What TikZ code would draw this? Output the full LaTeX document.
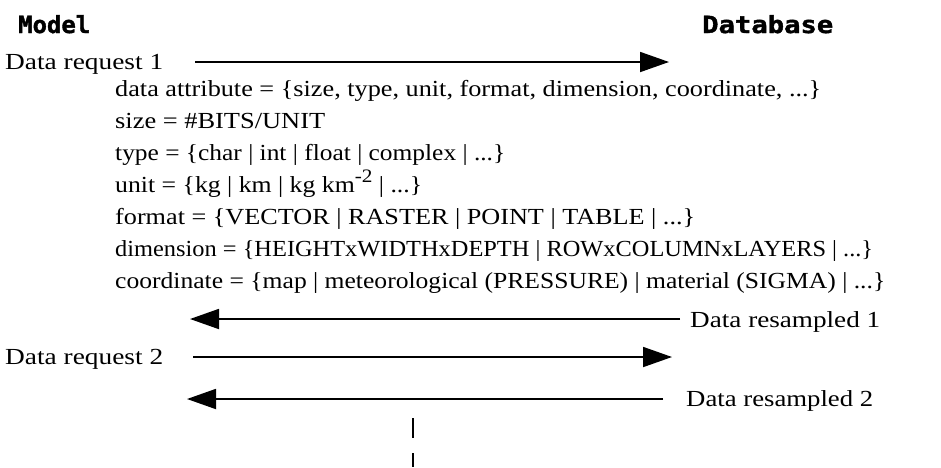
\documentclass[tikz,border=0pt]{standalone}
\usepackage{fontspec}
\usepackage{graphicx}
\setmainfont{Liberation Serif}
\newfontfamily\headfont[FakeBold=1.5]{DejaVu Sans Mono}
\usetikzlibrary{arrows.meta}
\newcommand\fitline[2]{\resizebox{#1}{\height}{#2}}
\newcommand\supr[1]{\raisebox{0.42em}{\fontsize{19}{19}\selectfont #1}}
\begin{document}
\begin{tikzpicture}[x=1pt,y=-1pt,
  txt/.style={anchor=base west,inner sep=0pt,font=\fontsize{23}{26}\selectfont},
  head/.style={anchor=base west,inner sep=0pt,font=\headfont\bfseries\fontsize{22}{24}\selectfont},
  msg/.style={line width=1.8pt,-{Triangle[length=29pt,width=20pt]}},
  dashseg/.style={line width=2pt}]
\useasboundingbox[fill=white] (0,0) rectangle (941,467);
\node[head] (model) at (18,33) {\resizebox{72pt}{18pt}{Model}};
\node[head] (db) at (702,33) {\resizebox{131pt}{18pt}{Database}};
\node[txt] (dr1) at (5,69) {\fitline{158pt}{Data request 1}};
\node[txt] (da) at (115,96) {\fitline{706pt}{data attribute = \{size, type, unit, format, dimension, coordinate, ...\}}};
\node[txt] (sz) at (115,128) {\fitline{210pt}{size = \#BITS/UNIT}};
\node[txt] (ty) at (115,160) {\fitline{390pt}{type = \{char | int | float | complex | ...\}}};
\node[txt] (un) at (115,192) {\fitline{307pt}{unit = \{kg | km | kg km\supr{-2} | ...\}}};
\node[txt] (fo) at (115,224) {\fitline{580pt}{format = \{VECTOR | RASTER | POINT | TABLE | ...\}}};
\node[txt] (di) at (115,256) {\fitline{758pt}{dimension = \{HEIGHTxWIDTHxDEPTH | ROWxCOLUMNxLAYERS | ...\}}};
\node[txt] (co) at (115,288) {\fitline{770pt}{coordinate = \{map | meteorological (PRESSURE) | material (SIGMA) | ...\}}};
\node[txt] (rs1) at (690,327) {\fitline{190pt}{Data resampled 1}};
\node[txt] (dr2) at (5,364) {\fitline{158pt}{Data request 2}};
\node[txt] (rs2) at (686,406) {\fitline{187pt}{Data resampled 2}};
\coordinate (a1s) at (195,62);
\coordinate (a1e) at (669,62);
\coordinate (a2s) at (680,319);
\coordinate (a2e) at (190,319);
\coordinate (a3s) at (193,357);
\coordinate (a3e) at (672,357);
\coordinate (a4s) at (663,399);
\coordinate (a4e) at (187,399);
\draw[msg] (a1s) -- (a1e);
\draw[msg] (a2s) -- (a2e);
\draw[msg] (a3s) -- (a3e);
\draw[msg] (a4s) -- (a4e);
\coordinate (v1) at (413,418);
\coordinate (v2) at (413,438);
\coordinate (v3) at (413,453);
\coordinate (v4) at (413,467);
\draw[dashseg] (v1) -- (v2);
\draw[dashseg] (v3) -- (v4);
\end{tikzpicture}
\end{document}
